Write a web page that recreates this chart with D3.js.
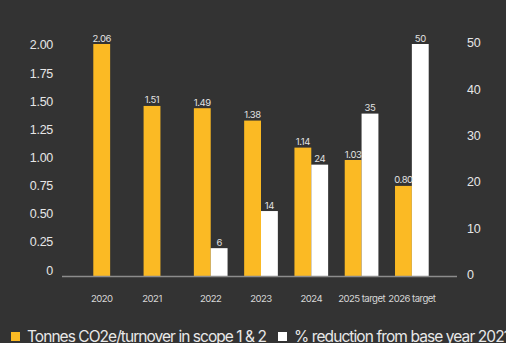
<!DOCTYPE html>
<html>
<head>
<meta charset="utf-8">
<script src="https://cdn.jsdelivr.net/npm/d3@7"></script>
<style>
  html, body { margin: 0; padding: 0; background: #333333; }
  svg { display: block; font-family: Inter, "Liberation Sans", sans-serif; }
</style>
</head>
<body>
<svg id="chart" width="506" height="343"></svg>
<script>
// Emission intensity and reduction progress, actual years plus targets
const categories = ["2020", "2021", "2022", "2023", "2024", "2025 target", "2026 target"];
const intensity = [2.06, 1.51, 1.49, 1.38, 1.14, 1.03, 0.80];          // tonnes CO2e / turnover, scope 1 & 2
const reduction = [null, null, 6, 14, 24, 35, 50];                     // % reduction from base year 2021
const leftTicks = [0, 0.25, 0.5, 0.75, 1, 1.25, 1.5, 1.75, 2];
const leftTickLabels = ["0", "0.25", "0.50", "0.75", "1.00", "1.25", "1.50", "1.75", "2.00"];
const rightTicks = [0, 10, 20, 30, 40, 50];
const legendLabels = ["Tonnes CO2e/turnover in scope 1 & 2", "% reduction from base year 2021"];

const YELLOW = "#fbba24";
const WHITE = "#ffffff";

const svg = d3.select("#chart");
const baseY = 276, topY = 44;
const axisX0 = 62, axisX1 = 457;

const yL = d3.scaleLinear().domain([0, d3.max(intensity)]).range([baseY, topY]);
const yR = d3.scaleLinear().domain([0, d3.max(reduction)]).range([baseY, topY]);

const x = d3.scaleBand().domain(categories).range([85, 437])
  .paddingInner(0.33).paddingOuter(0.165);
const xSub = d3.scaleBand().domain(["co2", "pct"]).range([0, x.bandwidth()]);

const rows = categories.map((c, i) => ({ cat: c, co2: intensity[i], pct: reduction[i] }));

// left axis
const axL = svg.append("g").attr("transform", `translate(53,0)`)
  .call(d3.axisLeft(yL).tickValues(leftTicks).tickSize(0).tickPadding(0)
    .tickFormat((d, i) => leftTickLabels[i]));
axL.select(".domain").remove();
axL.selectAll("text")
  .attr("fill", "#e6e6e6").attr("font-size", 12.5).attr("font-family", null)
  .attr("dy", "-0.15em").attr("letter-spacing", -0.3);

// right axis
const axR = svg.append("g").attr("transform", `translate(467,0)`)
  .call(d3.axisRight(yR).tickValues(rightTicks).tickSize(0).tickPadding(0));
axR.select(".domain").remove();
axR.selectAll("text")
  .attr("fill", "#e6e6e6").attr("font-size", 12.5).attr("font-family", null)
  .attr("dy", "0.22em").attr("letter-spacing", -0.3);

// bars
const groups = svg.append("g").selectAll("g").data(rows).join("g")
  .attr("transform", d => `translate(${x(d.cat)},0)`);

groups.append("rect")
  .attr("x", xSub("co2")).attr("width", xSub.bandwidth())
  .attr("y", d => yL(d.co2)).attr("height", d => baseY - yL(d.co2))
  .attr("fill", YELLOW);

groups.filter(d => d.pct != null).append("rect")
  .attr("x", xSub("pct")).attr("width", xSub.bandwidth())
  .attr("y", d => yR(d.pct)).attr("height", d => baseY - yR(d.pct))
  .attr("fill", WHITE);

// value labels
const fmt2 = d3.format(".2f");
groups.append("text")
  .attr("x", xSub("co2") + xSub.bandwidth() / 2)
  .attr("y", d => yL(d.co2) - 2.5)
  .attr("text-anchor", "middle").attr("font-size", 9.5).attr("letter-spacing", -0.4)
  .attr("fill", "#e2e2e2")
  .text(d => fmt2(d.co2));

groups.filter(d => d.pct != null).append("text")
  .attr("x", xSub("pct") + xSub.bandwidth() / 2)
  .attr("y", d => yR(d.pct) - 2.5)
  .attr("text-anchor", "middle").attr("font-size", 9.5).attr("letter-spacing", -0.4)
  .attr("fill", "#e2e2e2")
  .text(d => d.pct);

// baseline
svg.append("line")
  .attr("x1", axisX0).attr("x2", axisX1).attr("y1", baseY + 0.5).attr("y2", baseY + 0.5)
  .attr("stroke", "#8c8c8c").attr("stroke-width", 1.5);

// category labels: centred on the bars that are present
groups.append("text")
  .attr("x", d => d.pct != null ? x.bandwidth() / 2 : xSub("co2") + xSub.bandwidth() / 2)
  .attr("y", 298.7).attr("dy", "0.35em")
  .attr("text-anchor", "middle").attr("font-size", 9.6).attr("letter-spacing", -0.55)
  .attr("fill", "#d6d6d6")
  .text(d => d.cat);

// legend (sits on the bottom edge of the panel)
const legend = svg.append("g");
const legendItems = [
  { label: legendLabels[0], color: YELLOW, x: 11, width: 240 },
  { label: legendLabels[1], color: WHITE, x: 278, width: 216 }
];
legendItems.forEach(item => {
  legend.append("rect").attr("x", item.x).attr("y", 332).attr("width", 9).attr("height", 9)
    .attr("fill", item.color);
  legend.append("text").attr("x", item.x + 16).attr("y", 342)
    .attr("font-size", 15.5).attr("fill", "#e8e8e8")
    .attr("textLength", item.width).attr("lengthAdjust", "spacing")
    .text(item.label);
});
</script>
</body>
</html>
